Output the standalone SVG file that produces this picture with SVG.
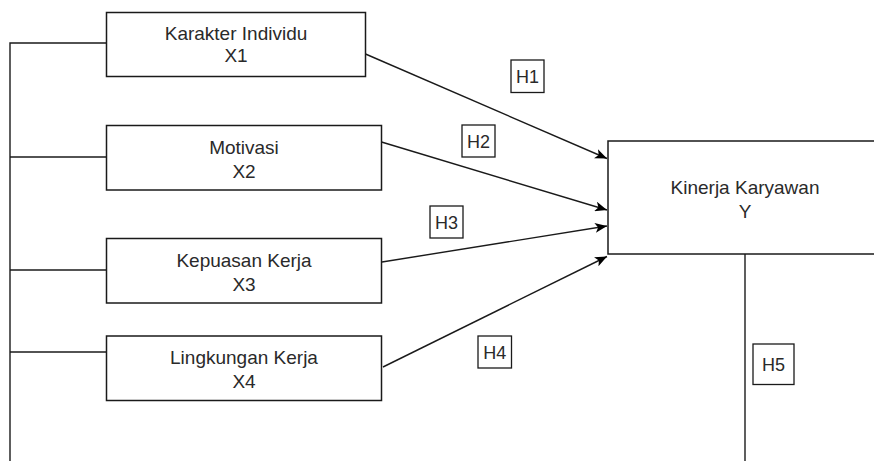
<svg xmlns="http://www.w3.org/2000/svg" width="874" height="461" viewBox="0 0 874 461">
<defs>
<style>
.box{fill:#fff;stroke:#1a1a1a;stroke-width:1.5}
.lbl{fill:#fff;stroke:#1a1a1a;stroke-width:1.3}
.t{font-family:"Liberation Sans",Arial,sans-serif;font-size:19px;fill:#2a2a2a;text-anchor:middle}
.h{font-family:"Liberation Sans",Arial,sans-serif;font-size:18px;fill:#2a2a2a;text-anchor:middle}
.c{fill:none;stroke:#1a1a1a;stroke-width:1.4}
</style>
<marker id="ah" viewBox="0 0 12 10" refX="12" refY="5" markerWidth="12" markerHeight="10" markerUnits="userSpaceOnUse" orient="auto">
<path d="M0,0 L12,5 L0,10 L3,5 Z" fill="#000"/>
</marker>
</defs>
<rect width="874" height="461" fill="#fff"/>
<g id="connectors">
<path class="c" d="M10,461 V43 H106.5"/>
<path class="c" d="M10,157 H106.5"/>
<path class="c" d="M10,270 H106.5"/>
<path class="c" d="M10,352 H106.5"/>
<path class="c" d="M745,254 V461"/>
<path class="c" marker-end="url(#ah)" d="M365.5,54 L607,158.5"/>
<path class="c" marker-end="url(#ah)" d="M381.5,142 L607,210"/>
<path class="c" marker-end="url(#ah)" d="M382,262 L607,226"/>
<path class="c" marker-end="url(#ah)" d="M383,367 L607,256.5"/>
</g>
<g id="x1">
<rect class="box" x="106.5" y="12.5" width="259" height="64"/>
<text class="t" x="236" y="40">Karakter Individu</text>
<text class="t" x="236" y="62">X1</text>
</g>
<g id="x2">
<rect class="box" x="106.5" y="125.5" width="275" height="64.5"/>
<text class="t" x="244" y="153.5">Motivasi</text>
<text class="t" x="244" y="178">X2</text>
</g>
<g id="x3">
<rect class="box" x="106.5" y="238.5" width="275" height="64.5"/>
<text class="t" x="244" y="266.5">Kepuasan Kerja</text>
<text class="t" x="244" y="291">X3</text>
</g>
<g id="x4">
<rect class="box" x="106.5" y="336" width="275" height="64.5"/>
<text class="t" x="244" y="364">Lingkungan Kerja</text>
<text class="t" x="244" y="388">X4</text>
</g>
<g id="y">
<rect class="box" x="608" y="141" width="280" height="113"/>
<text class="t" x="745" y="194">Kinerja Karyawan</text>
<text class="t" x="745" y="218">Y</text>
</g>
<g id="h1">
<rect class="lbl" x="511" y="60" width="33" height="32.5"/>
<text class="h" x="527.5" y="83">H1</text>
</g>
<g id="h2">
<rect class="lbl" x="462" y="125" width="33" height="32"/>
<text class="h" x="478.5" y="148">H2</text>
</g>
<g id="h3">
<rect class="lbl" x="430" y="206" width="33" height="32"/>
<text class="h" x="446.5" y="229">H3</text>
</g>
<g id="h4">
<rect class="lbl" x="478" y="336" width="33.5" height="32"/>
<text class="h" x="494.75" y="359">H4</text>
</g>
<g id="h5">
<rect class="lbl" x="753" y="344" width="41" height="40.5"/>
<text class="h" x="773.5" y="371">H5</text>
</g>
</svg>
